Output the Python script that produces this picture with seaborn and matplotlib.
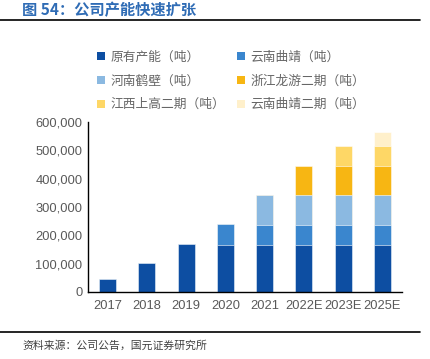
import numpy as np
import pandas as pd
import matplotlib
matplotlib.use('Agg')
import matplotlib.pyplot as plt
import seaborn as sns
from matplotlib.patches import Patch

years = ['2017', '2018', '2019', '2020', '2021', '2022E', '2023E', '2025E']
yuanyou = [45000, 104000, 170000, 166000, 166000, 166000, 166000, 166000]
qujing = [0, 0, 0, 74000, 70000, 70000, 70000, 70000]
hebi = [0, 0, 0, 0, 108000, 105000, 105000, 105000]
longyou = [0, 0, 0, 0, 0, 102000, 102000, 102000]
shanggao = [0, 0, 0, 0, 0, 0, 72000, 72000]
qujing2 = [0, 0, 0, 0, 0, 0, 0, 50000]

names = ['原有产能（吨）', '云南曲靖（吨）', '河南鹤壁（吨）',
         '浙江龙游二期（吨）', '江西上高二期（吨）', '云南曲靖二期（吨）']
series = [yuanyou, qujing, hebi, longyou, shanggao, qujing2]
colors = ['#0D4EA2', '#3A86CE', '#8BB9E1', '#F7B613', '#FED766', '#FFF0CB']

sns.set_style('white')
plt.rcParams['font.family'] = ['Noto Sans CJK SC', 'DejaVu Sans']

df = pd.DataFrame({'year': years})
cum = np.zeros(len(years))
for n, s in zip(names, series):
    cum = cum + np.array(s)
    df[n] = cum

fig = plt.figure(figsize=(4.31, 3.59), dpi=100)
ax = fig.add_axes([88 / 431, 1 - 292 / 359, 314 / 431, 170 / 359])

# draw cumulative totals from the top layer down
for n, c in reversed(list(zip(names, colors))):
    sns.barplot(data=df, x='year', y=n, color=c, width=0.43, ax=ax,
                edgecolor='white', linewidth=0.4, saturation=1)

num_font = ['Liberation Sans', 'DejaVu Sans']
ax.set_xlim(-0.5, 7.5)
ax.set_ylim(0, 600000)
ax.set_yticks(range(0, 600001, 100000))
ax.set_yticklabels([f'{v:,}' for v in range(0, 600001, 100000)],
                   family=num_font, fontsize=9.3, color='#595959')
ax.set_xticks(range(len(years)))
ax.set_xticklabels(years, family=num_font, fontsize=9.3, color='#595959')
ax.set_xticks(np.arange(-0.5, 8, 1), minor=True)
ax.tick_params(axis='x', which='major', length=0, pad=6)
ax.tick_params(axis='x', which='minor', direction='in', length=3, width=0.8, color='black')
ax.tick_params(axis='y', direction='in', length=3, width=0.8, color='black', pad=4)
ax.set_xlabel('')
ax.set_ylabel('')
for sp in ['top', 'right']:
    ax.spines[sp].set_visible(False)
for sp in ['left', 'bottom']:
    ax.spines[sp].set_color('black')
    ax.spines[sp].set_linewidth(1)

handles = [Patch(facecolor=c, edgecolor='none') for c in colors]
order = [0, 2, 4, 1, 3, 5]
leg = fig.legend([handles[i] for i in order], [names[i] for i in order],
                 ncol=2, frameon=False, loc='upper left',
                 bbox_to_anchor=(86 / 431, 1 - 39 / 359),
                 prop={'family': ['Noto Sans CJK SC'], 'size': 9.2, 'weight': 'light'},
                 handlelength=0.6, handleheight=0.6,
                 handletextpad=0.45, columnspacing=0.9, labelspacing=0.85)
for t in leg.get_texts():
    t.set_color('#666666')

fig.text(22 / 431, 1 - 10 / 359, '图 54：公司产能快速扩张', fontsize=11,
         fontweight='bold', color='#2F6CB5', va='center', ha='left')
fig.add_artist(plt.Line2D([0, 420 / 431], [1 - 19.5 / 359, 1 - 19.5 / 359],
                          color='black', linewidth=1.2))
fig.add_artist(plt.Line2D([0, 420 / 431], [1 - 332 / 359, 1 - 332 / 359],
                          color='black', linewidth=1.2))
fig.text(22 / 431, 1 - 346 / 359, '资料来源：公司公告，国元证券研究所', fontsize=7.8,
         color='#404040', va='center', ha='left')

fig.savefig('out.png', dpi=100)
